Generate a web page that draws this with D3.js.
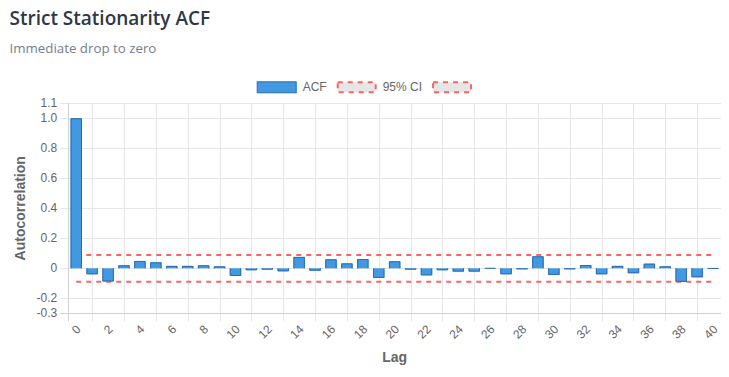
<!DOCTYPE html>
<html>
<head>
<meta charset="utf-8">
<script src="https://cdn.jsdelivr.net/npm/d3@7/dist/d3.min.js"></script>
<style>
  html, body { margin: 0; padding: 0; background: #fff; }
  svg { display: block; }
</style>
</head>
<body>
<svg id="chart" width="729" height="377"></svg>
<script>
// ---- Data ----
const lags = [0,1,2,3,4,5,6,7,8,9,10,11,12,13,14,15,16,17,18,19,20,21,22,23,24,25,26,27,28,29,30,31,32,33,34,35,36,37,38,39,40];
const acfValues = [1.0,-0.04,-0.088,0.02,0.049,0.04,0.016,0.016,0.02,0.013,-0.051,-0.013,-0.009,-0.02,0.076,-0.016,0.06,0.033,0.062,-0.064,0.047,-0.009,-0.047,-0.013,-0.022,-0.022,-0.003,-0.04,-0.007,0.08,-0.044,-0.007,0.022,-0.04,0.016,-0.033,0.031,0.013,-0.091,-0.06,-0.004];
const ciUpper = 0.089;
const ciLower = -0.089;
const yTicks = [-0.3,-0.2,0,0.2,0.4,0.6,0.8,1.0,1.1];
const yTickLabels = ["-0.3","-0.2","0","0.2","0.4","0.6","0.8","1.0","1.1"];
const legendLabels = ["ACF","95% CI",""];

// ---- Layout ----
const svg = d3.select("#chart");
const plot = { left: 68.3, right: 721, top: 103.3, bottom: 313.3 };
const FONT = "'Helvetica Neue', Helvetica, Arial, 'Liberation Sans', sans-serif";
const gridColor = "#e6e6e6";
const axisColor = "#d2d2d2";
const barFill = "#4299e1";
const barBorder = "#2b6cb0";
const ciColor = "#f56565";

const x = d3.scaleBand().domain(lags).range([plot.left, plot.right]).paddingInner(0).paddingOuter(0);
const y = d3.scaleLinear().domain([-0.3, 1.1]).range([plot.bottom, plot.top]);
const cx = d => x(d) + x.bandwidth() / 2;
const barW = x.bandwidth() * 0.8 * 0.9;

// Title / subtitle
svg.append("text").attr("x", 9.5).attr("y", 25)
  .attr("font-family", "'Open Sans', 'Noto Sans', sans-serif").attr("font-weight", 600)
  .attr("font-size", 19).attr("fill", "#2d3748").text("Strict Stationarity ACF");
svg.append("text").attr("x", 9.5).attr("y", 52.5)
  .attr("font-family", "'Open Sans', 'Noto Sans', sans-serif")
  .attr("font-size", 13.3).attr("fill", "#718096").text("Immediate drop to zero");

// Horizontal grid + y ticks
const gY = svg.append("g");
yTicks.forEach((t, i) => {
  gY.append("line").attr("x1", plot.left - 8).attr("x2", plot.right)
    .attr("y1", Math.round(y(t)) + 0.5).attr("y2", Math.round(y(t)) + 0.5)
    .attr("stroke", gridColor).attr("stroke-width", 1);
  gY.append("text").attr("x", plot.left - 11).attr("y", y(t))
    .attr("text-anchor", "end").attr("dominant-baseline", "central")
    .attr("font-family", FONT).attr("font-size", 12).attr("fill", "#666")
    .text(yTickLabels[i]);
});

// Vertical grid lines (between displayed ticks, every 2 categories)
const shownLags = lags.filter(l => l % 2 === 0);
const gX = svg.append("g");
shownLags.forEach((l, i) => {
  if (i > 0) {
    const gx = Math.round((cx(shownLags[i - 1]) + cx(l)) / 2) + 0.5;
    gX.append("line").attr("x1", gx).attr("x2", gx)
      .attr("y1", plot.top).attr("y2", plot.bottom + 8)
      .attr("stroke", gridColor).attr("stroke-width", 1);
  }
  const tx = cx(l) + 2.5, ty = plot.bottom + 14;
  gX.append("text").attr("transform", `translate(${tx},${ty}) rotate(-45)`)
    .attr("text-anchor", "end").attr("dominant-baseline", "central")
    .attr("font-family", FONT).attr("font-size", 12).attr("fill", "#666")
    .text(String(l));
});

// Axis borders
svg.append("line").attr("x1", Math.round(plot.left) + 0.5).attr("x2", Math.round(plot.left) + 0.5)
  .attr("y1", plot.top).attr("y2", plot.bottom + 8).attr("stroke", axisColor);
svg.append("line").attr("x1", plot.left - 8).attr("x2", plot.right)
  .attr("y1", Math.round(plot.bottom) + 0.5).attr("y2", Math.round(plot.bottom) + 0.5).attr("stroke", axisColor);

// CI lines
[ciUpper, ciLower].forEach(v => {
  svg.append("line").attr("x1", cx(lags[0])).attr("x2", cx(lags[lags.length - 1]))
    .attr("y1", y(v)).attr("y2", y(v))
    .attr("stroke", ciColor).attr("stroke-width", 2).attr("stroke-dasharray", "5,5");
});

// Bars
const gB = svg.append("g");
lags.forEach((l, i) => {
  const v = acfValues[i];
  const x0 = cx(l) - barW / 2, x1 = cx(l) + barW / 2;
  const y0 = y(0), y1 = y(v);
  const top = Math.min(y0, y1), h = Math.abs(y1 - y0);
  gB.append("rect").attr("x", x0).attr("y", top).attr("width", barW).attr("height", h)
    .attr("fill", barFill);
  // border on three sides (skip base)
  const yb = y0, ye = v >= 0 ? y1 + 0.5 : y1 - 0.5;
  gB.append("path")
    .attr("d", `M${x0 + 0.5},${yb} L${x0 + 0.5},${ye} L${x1 - 0.5},${ye} L${x1 - 0.5},${yb}`)
    .attr("fill", "none").attr("stroke", barBorder).attr("stroke-width", 1);
});

// Axis titles
svg.append("text").attr("transform", `translate(25,${(plot.top + plot.bottom) / 2}) rotate(-90)`)
  .attr("text-anchor", "middle").attr("font-family", FONT).attr("font-weight", "bold")
  .attr("font-size", 14).attr("fill", "#666").text("Autocorrelation");
svg.append("text").attr("x", (plot.left + plot.right) / 2).attr("y", 362)
  .attr("text-anchor", "middle").attr("font-family", FONT).attr("font-weight", "bold")
  .attr("font-size", 14).attr("fill", "#666").text("Lag");

// Legend
const gL = svg.append("g");
let lx = 256.7;
const ly = 81.3;
legendLabels.forEach((lab, i) => {
  const box = gL.append("rect").attr("x", lx + 1).attr("y", ly + 1).attr("width", 38).attr("height", 10);
  if (i === 0) {
    box.attr("x", lx + 0.5).attr("y", ly + 0.5).attr("width", 39).attr("height", 11)
      .attr("fill", barFill).attr("stroke", barBorder).attr("stroke-width", 1);
  } else {
    box.attr("fill", "#e6e6e6").attr("stroke", ciColor).attr("stroke-width", 2).attr("stroke-dasharray", "5,5");
  }
  const t = gL.append("text").attr("x", lx + 46).attr("y", ly + 6)
    .attr("dominant-baseline", "central").attr("font-family", FONT).attr("font-size", 12)
    .attr("fill", "#666").text(lab);
  const tw = lab ? t.node().getComputedTextLength() : 0;
  lx += 40 + 6 + tw + 10;
});
</script>
</body>
</html>
